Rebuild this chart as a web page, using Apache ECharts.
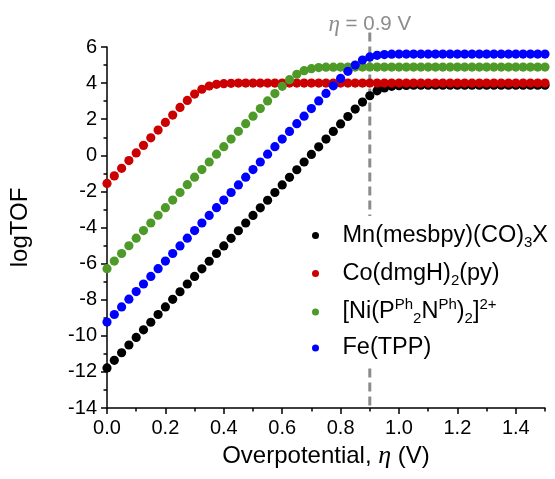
<!DOCTYPE html>
<html>
<head>
<meta charset="utf-8">
<script src="https://cdn.jsdelivr.net/npm/echarts@6/dist/echarts.min.js"></script>
<style>
  html, body { margin: 0; padding: 0; background: #fff; }
  #chart { width: 555px; height: 479px; }
</style>
</head>
<body>
<div id="chart"></div>
<script>
// overpotential grid (V)
var eta = [
  0, 0.025, 0.05, 0.075, 0.1, 0.125, 0.15, 0.175, 0.2, 0.225,
  0.25, 0.275, 0.3, 0.325, 0.35, 0.375, 0.4, 0.425, 0.45, 0.475,
  0.5, 0.525, 0.55, 0.575, 0.6, 0.625, 0.65, 0.675, 0.7, 0.725,
  0.75, 0.775, 0.8, 0.825, 0.85, 0.875, 0.9, 0.925, 0.95, 0.975,
  1.0, 1.025, 1.05, 1.075, 1.1, 1.125, 1.15, 1.175, 1.2, 1.225,
  1.25, 1.275, 1.3, 1.325, 1.35, 1.375, 1.4, 1.425, 1.45, 1.475,
  1.5
];

// logTOF
var mnValues = [
  -11.78, -11.36, -10.94, -10.51, -10.09, -9.67, -9.25, -8.82, -8.40, -7.98,
  -7.56, -7.13, -6.71, -6.29, -5.87, -5.44, -5.02, -4.60, -4.18, -3.75,
  -3.33, -2.91, -2.49, -2.06, -1.64, -1.22, -0.80, -0.37, 0.05, 0.47,
  0.90, 1.32, 1.74, 2.15, 2.56, 2.95, 3.30, 3.57, 3.73, 3.82,
  3.86, 3.87, 3.88, 3.88, 3.88, 3.88, 3.88, 3.88, 3.88, 3.88,
  3.88, 3.88, 3.88, 3.88, 3.88, 3.88, 3.88, 3.88, 3.88, 3.88,
  3.88
];
var coValues = [
  -1.56, -1.14, -0.72, -0.29, 0.13, 0.55, 0.97, 1.40, 1.82, 2.23,
  2.65, 3.04, 3.39, 3.66, 3.84, 3.93, 3.97, 3.99, 4.00, 4.00,
  4.00, 4.00, 4.00, 4.00, 4.00, 4.00, 4.00, 4.00, 4.00, 4.00,
  4.00, 4.00, 4.00, 4.00, 4.00, 4.00, 4.00, 4.00, 4.00, 4.00,
  4.00, 4.00, 4.00, 4.00, 4.00, 4.00, 4.00, 4.00, 4.00, 4.00,
  4.00, 4.00, 4.00, 4.00, 4.00, 4.00, 4.00, 4.00, 4.00, 4.00,
  4.00
];
var niValues = [
  -6.28, -5.86, -5.44, -5.01, -4.59, -4.17, -3.75, -3.32, -2.90, -2.48,
  -2.06, -1.63, -1.21, -0.79, -0.37, 0.06, 0.48, 0.90, 1.33, 1.75,
  2.17, 2.59, 3.01, 3.42, 3.82, 4.19, 4.49, 4.69, 4.80, 4.86,
  4.88, 4.88, 4.89, 4.89, 4.89, 4.89, 4.89, 4.89, 4.89, 4.89,
  4.89, 4.89, 4.89, 4.89, 4.89, 4.89, 4.89, 4.89, 4.89, 4.89,
  4.89, 4.89, 4.89, 4.89, 4.89, 4.89, 4.89, 4.89, 4.89, 4.89,
  4.89
];
var feValues = [
  -9.24, -8.82, -8.40, -7.97, -7.55, -7.13, -6.71, -6.28, -5.86, -5.44,
  -5.02, -4.59, -4.17, -3.75, -3.33, -2.90, -2.48, -2.06, -1.64, -1.21,
  -0.79, -0.37, 0.06, 0.48, 0.90, 1.32, 1.75, 2.17, 2.59, 3.01,
  3.43, 3.85, 4.26, 4.65, 5.00, 5.28, 5.45, 5.54, 5.58, 5.60,
  5.61, 5.61, 5.61, 5.61, 5.61, 5.61, 5.61, 5.61, 5.61, 5.61,
  5.61, 5.61, 5.61, 5.61, 5.61, 5.61, 5.61, 5.61, 5.61, 5.61,
  5.61
];

var seriesNames = ['Mn(mesbpy)(CO)3X', 'Co(dmgH)2(py)', '[Ni(PPh2NPh)2]2+', 'Fe(TPP)'];
var seriesColors = ['#000000', '#cc0000', '#4e9a29', '#0000ff'];

// axis ticks
var xMajorTicks = [0, 0.2, 0.4, 0.6, 0.8, 1.0, 1.2, 1.4];
var xMinorTicks = [0.1, 0.3, 0.5, 0.7, 0.9, 1.1, 1.3, 1.5];
var yMajorTicks = [-14, -12, -10, -8, -6, -4, -2, 0, 2, 4, 6];
var yMinorTicks = [-13, -11, -9, -7, -5, -3, -1, 1, 3, 5];

// dashed marker at eta = 0.9 V
var markerEta = 0.9;
var markerSpan = [6.8, -14];

var FONT = '"Liberation Sans", Arial, Helvetica, sans-serif';
var SERIF = '"Liberation Serif", "Times New Roman", serif';

(function () {
  'use strict';

  var chart = echarts.init(document.getElementById('chart'), null, { renderer: 'canvas' });

  var legendText = {
    'Mn(mesbpy)(CO)3X': '{n|Mn(mesbpy)(CO)}{sb|3}{n|X}',
    'Co(dmgH)2(py)': '{n|Co(dmgH)}{sb|2}{n|(py)}',
    '[Ni(PPh2NPh)2]2+': '{N|[Ni(P}{SP|Ph}{SB|2}{N|N}{SP|Ph}{N|)}{SB|2}{N|]}{SP|2+}',
    'Fe(TPP)': '{n|Fe(TPP)}'
  };

  function pairs(values) {
    return values.map(function (v, i) { return [eta[i], v]; });
  }

  var dotSeries = [mnValues, coValues, niValues, feValues].map(function (values, k) {
    return {
      name: seriesNames[k],
      type: 'scatter',
      data: pairs(values),
      symbol: 'circle',
      symbolSize: 9.2,
      itemStyle: { color: seriesColors[k], opacity: 1 },
      z: 3
    };
  });

  var markerSeries = {
    name: 'marker',
    type: 'line',
    clip: false,
    silent: true,
    z: 2,
    symbol: 'circle',
    symbolSize: 1,
    showSymbol: true,
    itemStyle: { color: 'rgba(0,0,0,0)' },
    lineStyle: { color: '#8c8c8c', width: 3, type: [9, 5] },
    data: [
      {
        value: [markerEta, markerSpan[0]],
        label: {
          show: true,
          position: 'top',
          distance: 0,
          offset: [0, 4],
          formatter: '{e|η}{t| = ' + markerEta.toFixed(1) + ' V}',
          rich: {
            e: { fontFamily: SERIF, fontStyle: 'italic', fontSize: 23, color: '#8c8c8c' },
            t: { fontFamily: FONT, fontSize: 20.5, color: '#8c8c8c' }
          }
        }
      },
      [markerEta, markerSpan[1]]
    ]
  };

  var axisLine = { show: true, onZero: false, lineStyle: { color: '#000', width: 1.5 } };

  chart.setOption({
    animation: false,
    backgroundColor: '#fff',
    grid: { left: 107, right: 10, top: 47, bottom: 71 },
    legend: {
      data: seriesNames,
      orient: 'vertical',
      left: 307,
      top: 216,
      padding: 5,
      itemGap: 9,
      itemWidth: 44,
      itemHeight: 7,
      icon: 'circle',
      backgroundColor: '#fff',
      selectedMode: false,
      formatter: function (name) { return legendText[name]; },
      textStyle: {
        rich: {
          n: { fontFamily: FONT, fontSize: 23.5, color: '#000', lineHeight: 24 },
          sb: { fontFamily: FONT, fontSize: 15, color: '#000', lineHeight: 24, padding: [14, 0, 0, 0] },
          N: { fontFamily: FONT, fontSize: 23.5, color: '#000', lineHeight: 38 },
          SB: { fontFamily: FONT, fontSize: 15, color: '#000', lineHeight: 38, padding: [14, 0, 0, 0] },
          SP: { fontFamily: FONT, fontSize: 15, color: '#000', lineHeight: 38, padding: [0, 0, 15, 0] }
        }
      }
    },
    xAxis: [
      {
        type: 'value',
        min: 0,
        max: 1.5,
        position: 'bottom',
        axisLine: axisLine,
        axisTick: { show: true, inside: false, length: 6, customValues: xMajorTicks, lineStyle: { color: '#000', width: 1.5 } },
        axisLabel: {
          customValues: xMajorTicks,
          formatter: function (v) { return v.toFixed(1); },
          fontFamily: FONT, fontSize: 20, color: '#000', margin: 10
        },
        splitLine: { show: false },
        name: '{t|Overpotential, }{e|η}{t| (V)}',
        nameLocation: 'middle',
        nameGap: 28,
        nameTextStyle: {
          rich: {
            t: { fontFamily: FONT, fontSize: 24, color: '#000' },
            e: { fontFamily: SERIF, fontStyle: 'italic', fontSize: 26, color: '#000' }
          }
        }
      },
      {
        type: 'value',
        min: 0,
        max: 1.5,
        position: 'bottom',
        axisLine: { show: false, onZero: false },
        axisTick: { show: true, inside: false, length: 3.5, customValues: xMinorTicks, lineStyle: { color: '#000', width: 1.5 } },
        axisLabel: { show: false },
        splitLine: { show: false }
      }
    ],
    yAxis: [
      {
        type: 'value',
        min: -14,
        max: 6,
        position: 'left',
        axisLine: axisLine,
        axisTick: { show: true, inside: false, length: 6, customValues: yMajorTicks, lineStyle: { color: '#000', width: 1.5 } },
        axisLabel: {
          customValues: yMajorTicks,
          fontFamily: FONT, fontSize: 20, color: '#000', margin: 10
        },
        splitLine: { show: false },
        name: 'logTOF',
        nameLocation: 'middle',
        nameGap: 75,
        nameTextStyle: { fontFamily: FONT, fontSize: 24, color: '#000' }
      },
      {
        type: 'value',
        min: -14,
        max: 6,
        position: 'left',
        axisLine: { show: false, onZero: false },
        axisTick: { show: true, inside: false, length: 3.5, customValues: yMinorTicks, lineStyle: { color: '#000', width: 1.5 } },
        axisLabel: { show: false },
        splitLine: { show: false }
      }
    ],
    series: [markerSeries].concat(dotSeries)
  });
})();
</script>
</body>
</html>
